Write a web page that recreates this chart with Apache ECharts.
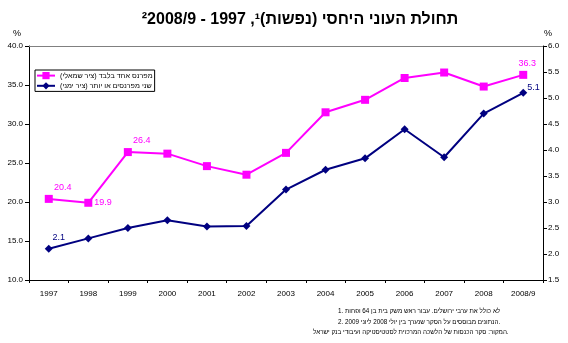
<!DOCTYPE html>
<html><head><meta charset="utf-8">
<script src="https://cdn.jsdelivr.net/npm/echarts@6/dist/echarts.min.js"></script>
<style>html,body{margin:0;padding:0;background:#fff}#c{width:568px;height:343px}</style>
</head><body><div id="c"></div>
<script>
const categories = ['1997','1998','1999','2000','2001','2002','2003','2004','2005','2006','2007','2008','2008/9'];
const oneEarner = [20.4,19.9,26.4,26.2,24.6,23.5,26.3,31.5,33.1,35.9,36.6,34.8,36.3];
const twoEarners = [2.1,2.3,2.5,2.65,2.53,2.54,3.24,3.62,3.84,4.40,3.86,4.70,5.1];
const leftAxis = {min:10, max:40, step:5};
const rightAxis = {min:1.5, max:6, step:0.5};
const seriesNames = ['מפרנס אחד בלבד (ציר שמאלי)','שני מפרנסים או יותר (ציר ימני)'];
const titleText = 'תחולת העוני היחסי (נפשות)\u00B9, 1997 - 2008/9\u200F\u00B2';
const notes = ['1. לא כולל את ערבי ירושלים. עבור ראש משק בית בן 64 ופחות',
  '2. הנתונים מבוססים על הסקר שנערך בין יולי 2008 ליוני 2009.',
  'המקור: סקר הכנסות של הלשכה המרכזית לסטטיסטיקה ועיבודי בנק ישראל.'];
const labeledOne = {0:{position:'top',offset:[14,2]},1:{position:'right',distance:2},2:{position:'top',offset:[14,2]},12:{position:'top',offset:[4,2]}};
const labeledTwo = {0:{position:'top',offset:[10,2]},12:{position:'right',distance:0,offset:[0,-5]}};

const FONT = 'Arial, "Liberation Sans", sans-serif';
const PINK = '#FF00FF', NAVY = '#000080';

function buildData(vals, labels, color){
  return vals.map((v,i)=>{
    const item = {value:v};
    if (labels[i]) item.label = Object.assign({show:true, color:color, fontSize:9, fontFamily:FONT, formatter: p=>p.value.toFixed(1)}, labels[i]);
    return item;
  });
}

const chart = echarts.init(document.getElementById('c'), null, {renderer:'canvas'});
chart.setOption({
  animation:false,
  backgroundColor:'#fff',
  textStyle:{fontFamily:FONT},
  grid:{left:29, right:25, top:46, bottom:63, containLabel:false},
  legend:{
    left:35, top:70, orient:'vertical', itemWidth:18, itemHeight:9, itemGap:3,
    padding:[2,2,2,1], borderColor:'#000', borderWidth:1, backgroundColor:'#fff',
    textStyle:{fontSize:7.2, color:'#000', fontFamily:FONT},
    data: seriesNames
  },
  xAxis:[{
    type:'category', data:categories, boundaryGap:true,
    axisLine:{lineStyle:{color:'#000', width:1}},
    axisTick:{show:true, length:3, lineStyle:{color:'#000'}},
    axisLabel:{fontSize:8, color:'#000', margin:10, fontFamily:FONT, interval:0},
    splitLine:{show:false}
  },{
    type:'category', data:categories, position:'top', boundaryGap:true,
    axisLine:{lineStyle:{color:'#808080', width:1}},
    axisTick:{show:false}, axisLabel:{show:false}, splitLine:{show:false}
  }],
  yAxis:[{
    type:'value', min:leftAxis.min, max:leftAxis.max, interval:leftAxis.step, position:'left',
    axisLine:{show:true, lineStyle:{color:'#000', width:1}},
    axisTick:{show:true, length:4, lineStyle:{color:'#000'}},
    axisLabel:{fontSize:8, color:'#000', margin:6, fontFamily:FONT, formatter:v=>v.toFixed(1)},
    splitLine:{show:false}
  },{
    type:'value', min:rightAxis.min, max:rightAxis.max, interval:rightAxis.step, position:'right',
    axisLine:{show:true, lineStyle:{color:'#000', width:1}},
    axisTick:{show:true, length:4, lineStyle:{color:'#000'}},
    axisLabel:{fontSize:8, color:'#000', margin:5, fontFamily:FONT, formatter:v=>v.toFixed(1)},
    splitLine:{show:false}
  }],
  graphic:[
    {type:'text', x:300, y:12, style:{text:titleText, fill:'#000', font:'bold 16px '+FONT, align:'center'}},
    {type:'text', left:13, top:29, style:{text:'%', fill:'#000', font:'9px '+FONT}},
    {type:'text', left:544, top:29, style:{text:'%', fill:'#000', font:'9px '+FONT}},
    {type:'text', left:338, top:308, style:{text:notes[0], fill:'#000', font:'6.3px '+FONT}},
    {type:'text', left:338, top:319, style:{text:notes[1], fill:'#000', font:'6.3px '+FONT}},
    {type:'text', left:313, top:329, style:{text:notes[2], fill:'#000', font:'6.3px '+FONT}}
  ],
  series:[{
    name:seriesNames[0], type:'line', yAxisIndex:0, xAxisIndex:0,
    data:buildData(oneEarner, labeledOne, PINK),
    symbol:'rect', symbolSize:8, showAllSymbol:true,
    lineStyle:{color:PINK, width:2}, itemStyle:{color:PINK},
    emphasis:{disabled:true}
  },{
    name:seriesNames[1], type:'line', yAxisIndex:1, xAxisIndex:0,
    data:buildData(twoEarners, labeledTwo, NAVY),
    symbol:'diamond', symbolSize:8, showAllSymbol:true,
    lineStyle:{color:NAVY, width:2}, itemStyle:{color:NAVY},
    emphasis:{disabled:true}
  }]
});
</script></body></html>
